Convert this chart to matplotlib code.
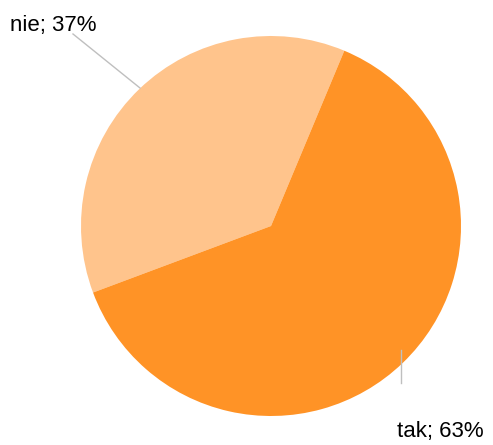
import matplotlib
matplotlib.use("Agg")
import matplotlib.pyplot as plt

categories = ["nie", "tak"]
values = [37, 63]
colors = ["#FFC48C", "#FF9326"]

W, H = 493, 445
fig = plt.figure(figsize=(W / 100, H / 100), dpi=100)
ax = fig.add_axes([0, 0, 1, 1])

cx, cy, r = 271, H - 226, 190
ax.pie(values, colors=colors, startangle=67.3, counterclock=True,
       center=(cx, cy), radius=r, wedgeprops=dict(linewidth=0),
       frame=True)
ax.set_xlim(0, W)
ax.set_ylim(0, H)
ax.set_aspect("equal")
ax.axis("off")

font = dict(family=["Liberation Sans", "DejaVu Sans"], fontsize=16, color="#000000")
# nie label
ax.plot([73, 140], [H - 34, H - 88], color="#BFBFBF", lw=1)
ax.text(10, H - 26, f"{categories[0]}; {values[0]}%", va="center", ha="left", **font)
# tak label
ax.plot([401, 401], [H - 350, H - 383], color="#BFBFBF", lw=1)
ax.text(397, H - 432, f"{categories[1]}; {values[1]}%", va="center", ha="left", **font)

fig.savefig("out.png", dpi=100)
